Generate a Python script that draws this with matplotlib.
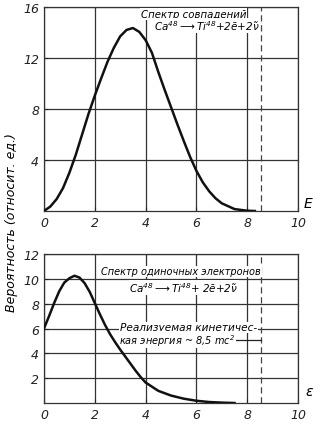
import matplotlib
matplotlib.use('Agg')
import matplotlib.pyplot as plt

plt.rcParams['font.family'] = ['DejaVu Sans']
plt.rcParams['font.style'] = 'italic'
plt.rcParams['mathtext.default'] = 'it'

# coincidence spectrum (upper panel)
top_e = [0, 0.25, 0.5, 0.75, 1.0, 1.25, 1.5, 1.75, 2.0, 2.25, 2.5, 2.75, 3.0, 3.25, 3.5,
         3.75, 4.0, 4.25, 4.5, 4.75, 5.0, 5.25, 5.5, 5.75, 6.0, 6.25, 6.5, 6.75, 7.0,
         7.5, 8.0, 8.3]
top_p = [0, 0.35, 0.94, 1.8, 3.0, 4.4, 6.0, 7.6, 9.05, 10.4, 11.7, 12.8, 13.7, 14.2, 14.35,
         14.05, 13.4, 12.4, 10.9, 9.5, 8.15, 6.8, 5.5, 4.25, 3.15, 2.25, 1.55, 1.0, 0.6,
         0.15, 0.02, 0]

# single electron spectrum (lower panel)
bot_e = [0, 0.2, 0.4, 0.6, 0.8, 1.0, 1.2, 1.4, 1.6, 1.8, 2.0, 2.2, 2.4, 2.6, 2.8, 3.0,
         3.2, 3.4, 3.6, 3.8, 4.0, 4.5, 5.0, 5.5, 6.0, 6.5, 7.0, 7.5]
bot_p = [6.0, 7.0, 8.05, 9.0, 9.7, 10.05, 10.25, 10.1, 9.65, 8.95, 8.05, 7.15, 6.3, 5.55,
         4.9, 4.3, 3.74, 3.18, 2.62, 2.1, 1.65, 0.98, 0.6, 0.35, 0.18, 0.08, 0.03, 0]

e_max = 8.55  # realisable kinetic energy, mc^2
xticks = [0, 2, 4, 6, 8, 10]
top_yticks = [4, 8, 12, 16]
bot_yticks = [2, 4, 6, 8, 10, 12]

fig = plt.figure(figsize=(3.22, 4.39), dpi=100)
ax1 = fig.add_axes([0.1366, 0.5171, 0.789, 0.4647])
ax2 = fig.add_axes([0.1366, 0.0797, 0.789, 0.3394])

box = dict(facecolor='white', edgecolor='none', pad=0.5)

for ax in (ax1, ax2):
    ax.set_xlim(0, 10)
    ax.set_xticks(xticks)
    ax.set_xticklabels([str(t) for t in xticks])
    ax.grid(color='#333333', linewidth=0.9)
    ax.axvline(e_max, color='#444444', linewidth=0.9, linestyle=(0, (5, 3)))
    ax.tick_params(direction='in', length=3, labelsize=9, colors='#222222')
    for s in ax.spines.values():
        s.set_linewidth(0.9)
        s.set_color('#333333')

ax1.set_ylim(0, 16)
ax1.set_yticks(top_yticks)
ax1.plot(top_e, top_p, color='#111111', linewidth=1.8, zorder=5, solid_joinstyle='round')
ax1.text(5.9, 15.45, 'Спектр совпадений', ha='center', va='center', fontsize=7.3, bbox=box)
ax1.text(6.4, 14.55, r'Ca$^{48}$$\longrightarrow$Ti$^{48}$+2$\bar{e}$+2$\tilde{\nu}$',
         ha='center', va='center', fontsize=7.5, bbox=box)
ax1.text(10.4, 0.1, 'E', fontsize=10, ha='center', va='bottom')

ax2.set_ylim(0, 12)
ax2.set_yticks(bot_yticks)
ax2.plot(bot_e, bot_p, color='#111111', linewidth=1.8, zorder=5, solid_joinstyle='round')
ax2.text(5.4, 10.6, 'Спектр одиночных электронов', ha='center', va='center',
         fontsize=7.0, bbox=box)
ax2.text(5.5, 9.3, r'Ca$^{48}$$\longrightarrow$Ti$^{48}$+ 2$\bar{e}$+2$\tilde{\nu}$',
         ha='center', va='center', fontsize=7.5, bbox=box)
ax2.text(5.7, 6.1, 'Реализуемая кинетичес-', ha='center', va='center', fontsize=7.6,
         bbox=box)
ax2.text(5.25, 5.1, r'кая энергия ~ 8,5 mc$^2$', ha='center', va='center', fontsize=7.0,
         bbox=box)
ax2.plot([7.5, e_max], [5.05, 5.05], color='#222222', linewidth=0.9)
ax2.text(10.45, 0.4, r'$\epsilon$', fontsize=10, ha='center', va='bottom')

fig.text(0.037, 0.492, 'Вероятность (относит. ед.)', rotation=90, ha='center',
         va='center', fontsize=9)

fig.savefig('out.png', dpi=100)
